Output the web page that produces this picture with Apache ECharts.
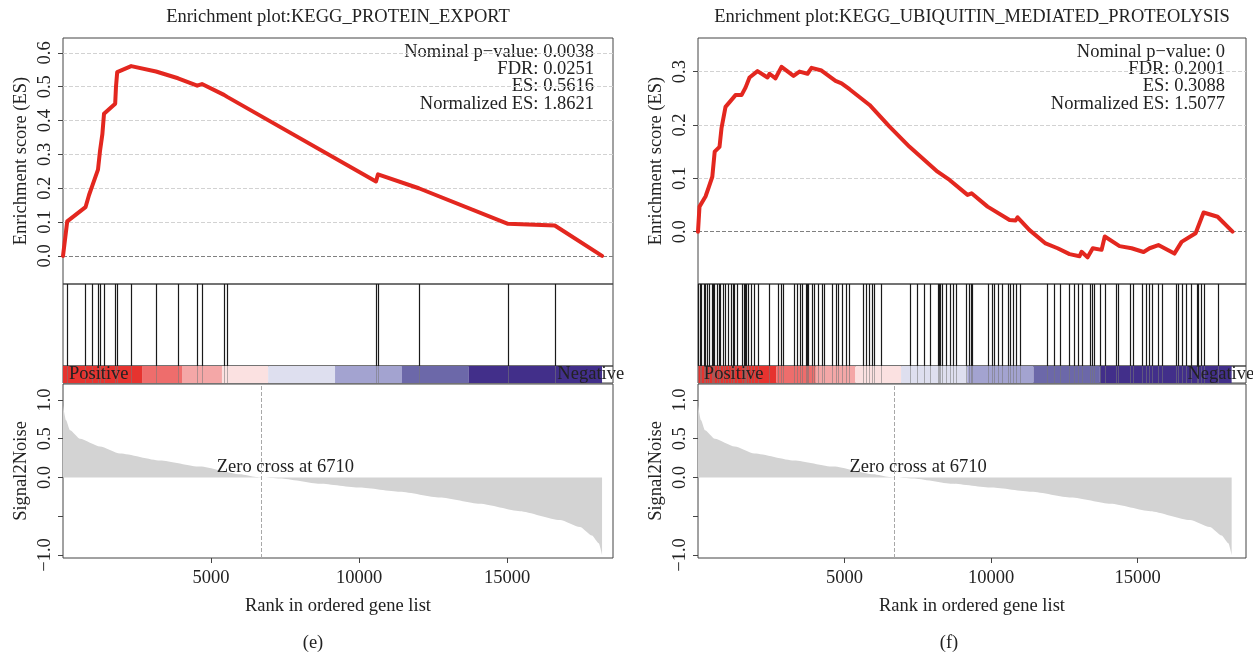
<!DOCTYPE html>
<html>
<head>
<meta charset="utf-8">
<title>GSEA enrichment plots</title>
<script src="https://cdn.jsdelivr.net/npm/echarts@6/dist/echarts.min.js"></script>
<style>
  html, body { margin: 0; padding: 0; background: #fff; }
  #chart { width: 1253px; height: 656px; }
</style>
</head>
<body>
<div id="chart"></div>
<script>
// ---- data ----
// running enrichment score, KEGG_PROTEIN_EXPORT  [rank, ES]
var esLeft = [
  [0, 0], [142, 0.102], [760, 0.144], [880, 0.18], [1000, 0.21], [1182, 0.255],
  [1250, 0.31], [1330, 0.36], [1385, 0.42], [1763, 0.45], [1790, 0.50], [1831, 0.543],
  [2304, 0.561], [3142, 0.545], [3885, 0.525], [4533, 0.503], [4695, 0.508],
  [5439, 0.476], [5547, 0.47], [10573, 0.22], [10641, 0.241], [12019, 0.20],
  [15032, 0.095], [16613, 0.09], [18210, 0]
];
var hitsLeft = [142, 750, 980, 1182, 1250, 1385, 1763, 1831, 2304, 3142, 3885, 4533,
  4695, 5439, 5547, 10573, 10641, 12019, 15032, 16613];

// running enrichment score, KEGG_UBIQUITIN_MEDIATED_PROTEOLYSIS
var esRight = [
  [0, 0], [51, 0.047], [256, 0.066], [352, 0.081], [488, 0.103], [570, 0.15],
  [734, 0.159], [802, 0.194], [939, 0.234], [1143, 0.247], [1280, 0.256], [1485, 0.256],
  [1621, 0.27], [1758, 0.289], [2031, 0.301], [2372, 0.289], [2440, 0.296], [2645, 0.2875],
  [2850, 0.309], [3260, 0.292], [3464, 0.30], [3737, 0.296], [3874, 0.307], [4215, 0.302],
  [4693, 0.2825], [4898, 0.278], [5171, 0.267], [5854, 0.2375], [6536, 0.197],
  [7219, 0.159], [8174, 0.1125], [8584, 0.097], [9198, 0.069], [9335, 0.072],
  [9881, 0.047], [10632, 0.022], [10837, 0.021], [10905, 0.027], [11314, 0.003],
  [11860, -0.022], [12270, -0.031], [12679, -0.042], [13020, -0.046], [13089, -0.0375],
  [13294, -0.048], [13471, -0.031], [13772, -0.034], [13881, -0.009], [14386, -0.027],
  [14796, -0.031], [14864, -0.028], [15205, -0.038], [15410, -0.031], [15710, -0.025],
  [16256, -0.041], [16502, -0.019], [16980, -0.003], [17253, 0.036], [17731, 0.028],
  [18240, 0]
];
var hitsRight = [10, 60, 119, 188, 250, 324, 392, 461, 520, 556, 665, 700, 734, 870, 938,
  1007, 1143, 1200, 1239, 1321, 1485, 1553, 1590, 1621, 1703, 1799, 1894, 2031, 2413,
  2713, 2822, 2891, 3259, 3368, 3464, 3560, 3669, 3720, 3764, 3874, 3942, 4078, 4215,
  4283, 4556, 4693, 4788, 4898, 5034, 5143, 5621, 5717, 5826, 5921, 6017, 6235, 7218,
  7464, 7723, 7901, 8174, 8210, 8256, 8311, 8447, 8584, 8693, 8816, 9130, 9239, 9307,
  9362, 9880, 10017, 10113, 10222, 10358, 10563, 10631, 10741, 10836, 10973, 11901,
  12133, 12338, 12652, 12816, 12952, 13089, 13362, 13457, 13526, 13703, 13881, 14249,
  14345, 14727, 14836, 15137, 15273, 15382, 15478, 15683, 15846, 16297, 16393, 16502,
  16638, 16816, 17020, 17075, 17157, 17253, 17730];

// ranked list metric (same list for both plots)
var signalRank = [0, 101, 236, 574, 1250, 1925, 3277, 4628, 5980, 6520, 6710, 7330, 8680,
  10030, 11385, 12735, 14085, 15437, 16790, 17465, 17870, 18100, 18210];
var signalValue = [0.935, 0.74, 0.61, 0.50, 0.40, 0.31, 0.22, 0.14, 0.04, 0.005, 0, -0.013,
  -0.08, -0.13, -0.185, -0.26, -0.34, -0.435, -0.55, -0.64, -0.75, -0.85, -1.0];
var zeroCross = 6710;

// heat bar under the hits
var bandBreaks = [0, 2670, 4020, 5370, 6930, 9190, 11450, 13710, 18210];
var bandColors = ['#e6332f', '#ee6d6c', '#f4a7a7', '#fbe1e1', '#dedfef', '#a3a3d0', '#6c68a9', '#422f8a'];

var rankTicks = [5000, 10000, 15000];
var signalTicks = [1, 0.5, 0, -0.5, -1];
var signalLabels = [1, 0.5, 0, -1];
var esTicksLeft = [0, 0.1, 0.2, 0.3, 0.4, 0.5, 0.6];
var esTicksRight = [0, 0.1, 0.2, 0.3];

var statsLeft = ['Nominal p\u2212value: 0.0038', 'FDR: 0.0251', 'ES: 0.5616', 'Normalized ES: 1.8621'];
var statsRight = ['Nominal p\u2212value: 0', 'FDR: 0.2001', 'ES: 0.3088', 'Normalized ES: 1.5077'];

// ---- chart ----
var FONT = 'Liberation Serif';
var FS = 18.5;
var TXT = '#222';
var BORDER = '#444';

var panels = [
  { left: 63, width: 550, xMax: 18580, es: esLeft, hits: hitsLeft, esMin: -0.083, esMax: 0.644,
    esTicks: esTicksLeft, title: 'Enrichment plot:KEGG_PROTEIN_EXPORT', stats: statsLeft,
    statsX: 594, tag: '(e)', tagX: 313 },
  { left: 698, width: 548, xMax: 18700, es: esRight, hits: hitsRight, esMin: -0.098, esMax: 0.363,
    esTicks: esTicksRight, title: 'Enrichment plot:KEGG_UBIQUITIN_MEDIATED_PROTEOLYSIS', stats: statsRight,
    statsX: 1225, tag: '(f)', tagX: 949 }
];

var grids = [], xAxes = [], yAxes = [], series = [], graphics = [];

function hiddenAxis(gi, min, max) {
  return {
    type: 'value', gridIndex: gi, min: min, max: max,
    axisLine: { show: false, onZero: false }, axisTick: { show: false },
    axisLabel: { show: false }, splitLine: { show: false }
  };
}

var labelText = { fontFamily: FONT, fontSize: FS, color: TXT };
var plainLabel = { fontFamily: FONT, fontSize: FS, color: TXT, textBorderWidth: 0, opacity: 1 };
var font = FS + 'px "' + FONT + '"';

panels.forEach(function (p, k) {
  var g = k * 4;
  var boxes = [[38, 246], [284, 82], [366, 17], [384, 174]];
  boxes.forEach(function (b) {
    grids.push({ left: p.left, width: p.width, top: b[0], height: b[1],
      show: true, borderColor: BORDER, borderWidth: 1, backgroundColor: 'transparent' });
  });

  // x axes
  xAxes.push(hiddenAxis(g, 0, p.xMax), hiddenAxis(g + 1, 0, p.xMax), hiddenAxis(g + 2, 0, p.xMax));
  xAxes.push({
    type: 'value', gridIndex: g + 3, min: 0, max: p.xMax, position: 'bottom',
    axisLine: { show: false, onZero: false },
    axisTick: { show: true, customValues: rankTicks, length: 5, lineStyle: { color: BORDER } },
    axisLabel: Object.assign({ show: true, customValues: rankTicks, margin: 11,
      formatter: function (v) { return String(v); } }, labelText),
    splitLine: { show: false },
    name: 'Rank in ordered gene list', nameLocation: 'middle', nameGap: 39,
    nameTextStyle: labelText
  });

  // y axes
  yAxes.push({
    type: 'value', gridIndex: g, min: p.esMin, max: p.esMax,
    axisLine: { show: false, onZero: false },
    axisTick: { show: true, customValues: p.esTicks, length: 5, lineStyle: { color: BORDER } },
    axisLabel: Object.assign({ show: true, customValues: p.esTicks, rotate: 90, margin: 8,
      formatter: function (v) { return v.toFixed(1); } }, labelText),
    splitLine: { show: false },
    name: 'Enrichment score (ES)', nameLocation: 'middle', nameGap: 32,
    nameTextStyle: labelText
  });
  yAxes.push(hiddenAxis(g + 1, 0, 1), hiddenAxis(g + 2, 0, 1));
  yAxes.push({
    type: 'value', gridIndex: g + 3, min: -1.039, max: 1.206,
    axisLine: { show: false, onZero: false },
    axisTick: { show: true, customValues: signalTicks, length: 5, lineStyle: { color: BORDER } },
    axisLabel: Object.assign({ show: true, customValues: signalLabels, rotate: 90, margin: 8,
      formatter: function (v) { return (v < 0 ? '\u2212' : '') + Math.abs(v).toFixed(1); } }, labelText),
    splitLine: { show: false },
    name: 'Signal2Noise', nameLocation: 'middle', nameGap: 32,
    nameTextStyle: labelText
  });

  // running ES curve with dashed guides
  series.push({
    type: 'line', xAxisIndex: g, yAxisIndex: g, data: p.es,
    showSymbol: false, silent: true, z: 5,
    lineStyle: { color: '#e3271f', width: 4, cap: 'round', join: 'round' },
    markLine: {
      silent: true, symbol: 'none', label: { show: false },
      data: p.esTicks.map(function (v) {
        return { yAxis: v, lineStyle: { type: 'dashed', width: 1, color: v === 0 ? '#808080' : '#d2d2d2' } };
      })
    }
  });

  // hit lines
  series.push({
    type: 'custom', xAxisIndex: g + 1, yAxisIndex: g + 1, silent: true,
    data: p.hits.map(function (r) { return [r, 0]; }),
    renderItem: function (params, api) {
      var x = Math.round(api.coord([api.value(0), 0])[0]) + 0.5;
      var cs = params.coordSys;
      return { type: 'line', shape: { x1: x, y1: cs.y, x2: x, y2: cs.y + cs.height },
        style: { stroke: '#1a1a1a', lineWidth: 1.2 } };
    }
  });

  // heat bar
  series.push({
    type: 'custom', xAxisIndex: g + 2, yAxisIndex: g + 2, silent: true, z: 1,
    data: bandBreaks.slice(0, -1).map(function (s, i) { return [s, bandBreaks[i + 1], i]; }),
    renderItem: function (params, api) {
      var a = api.coord([api.value(0), 1]);
      var b = api.coord([api.value(1), 0]);
      return { type: 'rect', shape: { x: a[0], y: a[1], width: b[0] - a[0], height: b[1] - a[1] },
        style: { fill: bandColors[api.value(2)] } };
    }
  });
  series.push({
    type: 'custom', xAxisIndex: g + 2, yAxisIndex: g + 2, silent: true, z: 2,
    data: p.hits.map(function (r) { return [r, 0]; }),
    renderItem: function (params, api) {
      var x = Math.round(api.coord([api.value(0), 0])[0]) + 0.5;
      var cs = params.coordSys;
      return { type: 'line', shape: { x1: x, y1: cs.y, x2: x, y2: cs.y + cs.height },
        style: { stroke: 'rgba(120,120,120,0.55)', lineWidth: 1 } };
    }
  });
  series.push({
    type: 'scatter', xAxisIndex: g + 2, yAxisIndex: g + 2, silent: true, z: 3,
    symbolSize: 1, itemStyle: { color: 'rgba(0,0,0,0)' },
    data: [[200, 0.5, 'Positive'], [16700, 0.5, 'Negative']],
    label: Object.assign({ show: true, position: 'inside', align: 'left',
      formatter: function (d) { return d.value[2]; } }, plainLabel),
    labelLayout: { hideOverlap: false }
  });

  // ranked metric
  series.push({
    type: 'line', xAxisIndex: g + 3, yAxisIndex: g + 3, silent: true,
    data: signalRank.map(function (r, i) { return [r, signalValue[i]]; }),
    showSymbol: false, smooth: 0.2, smoothMonotone: 'x',
    lineStyle: { opacity: 0 },
    areaStyle: { color: '#d3d3d3', opacity: 1 },
    markLine: {
      silent: true, symbol: 'none', label: { show: false },
      lineStyle: { type: 'dashed', color: '#a8a8a8', width: 1 },
      data: [{ xAxis: zeroCross }]
    }
  });
  series.push({
    type: 'scatter', xAxisIndex: g + 3, yAxisIndex: g + 3, silent: true, z: 4,
    symbolSize: 1, itemStyle: { color: 'rgba(0,0,0,0)' },
    data: [[7510, 0.13]],
    label: Object.assign({ show: true, position: 'inside',
      formatter: 'Zero cross at ' + zeroCross }, plainLabel)
  });

  // texts
  var cx = p.left + p.width / 2;
  graphics.push({ type: 'text', x: cx, y: 17, silent: true,
    style: { text: p.title, font: font, fill: TXT, align: 'center', verticalAlign: 'middle' } });
  graphics.push({ type: 'text', x: p.statsX, y: 43, silent: true,
    style: { text: p.stats.join('\n'), font: font, lineHeight: 17.4,
      fill: TXT, align: 'right', verticalAlign: 'top' } });
  graphics.push({ type: 'text', x: p.tagX, y: 643, silent: true,
    style: { text: p.tag, font: font, fill: TXT, align: 'center', verticalAlign: 'middle' } });
});

var myChart = echarts.init(document.getElementById('chart'));
myChart.setOption({
  animation: false,
  backgroundColor: '#fff',
  grid: grids,
  xAxis: xAxes,
  yAxis: yAxes,
  series: series,
  graphic: graphics
});
</script>
</body>
</html>
